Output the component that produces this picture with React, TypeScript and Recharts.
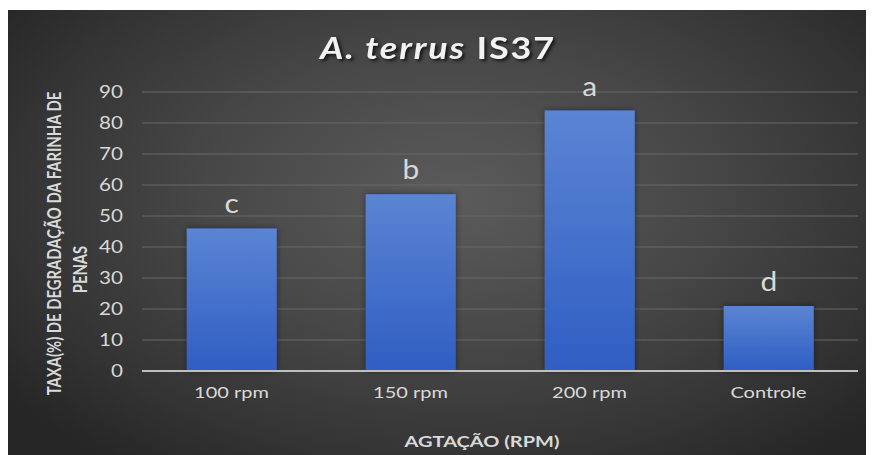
import React from "react";
import { BarChart, Bar, XAxis, YAxis, CartesianGrid, LabelList, Label } from "recharts";

const categories = ["100 rpm", "150 rpm", "200 rpm", "Controle"];
const values = [46, 57, 84, 21];
const letters = ["c", "b", "a", "d"];
const yTicks = [0, 10, 20, 30, 40, 50, 60, 70, 80, 90];

const data = categories.map((name, i) => ({ name, value: values[i], letter: letters[i] }));

const FONT = "Lato, 'Open Sans', sans-serif";
const SX = 1.25;
const TXT = "#d9d9d9";

const XTick = (props: any) => {
  const { x, y, payload } = props;
  return (
    <text transform={`translate(${x},${y}) scale(${SX},1)`} x={0} y={0} dy="0.71em" textAnchor="middle" fill={TXT} fontSize={16} fontFamily={FONT}>
      {payload.value}
    </text>
  );
};

const YTick = (props: any) => {
  const { x, y, payload } = props;
  return (
    <text transform={`translate(${x},${y}) scale(${SX},1)`} x={0} y={0} dy="0.355em" textAnchor="end" fill={TXT} fontSize={16.5} fontFamily={FONT}>
      {payload.value}
    </text>
  );
};

const LetterLabel = (props: any) => {
  const { x, y, width, value } = props;
  const cx = x + width / 2;
  return (
    <text transform={`translate(${cx},${y - 15}) scale(1.15,1)`} x={0} y={0} textAnchor="middle" fill={TXT} fontSize={26} fontFamily={FONT}>
      {value}
    </text>
  );
};

const YLabel = (props: any) => {
  const vb = props.viewBox || { x: 0, y: 0, width: 0, height: 0 };
  const cy = vb.y + vb.height / 2;
  const x1 = 46;
  const y1 = cy + 12;
  const x2 = 72;
  const y2 = cy + 38;
  return (
    <g fill={TXT} fontFamily={FONT} fontWeight={700} fontSize={14.8}>
      <text transform={`translate(${x1},${y1}) scale(1.3,1) rotate(-90)`} x={0} y={0} textAnchor="middle" dominantBaseline="central">
        TAXA(%)  DE DEGRADAÇÃO DA FARINHA DE
      </text>
      <text transform={`translate(${x2},${y2}) scale(1.3,1) rotate(-90)`} x={0} y={0} textAnchor="middle" dominantBaseline="central">
        PENAS
      </text>
    </g>
  );
};

const XLabel = (props: any) => {
  const vb = props.viewBox || { x: 0, y: 0, width: 0, height: 0 };
  const cx = vb.x + vb.width / 2 - 18;
  const cy = vb.y + 70;
  return (
    <text transform={`translate(${cx},${cy}) scale(${SX},1)`} x={0} y={0} textAnchor="middle" dominantBaseline="central" fill={TXT} fontFamily={FONT} fontWeight={700} fontSize={16}>
      AGTAÇÃO (RPM)
    </text>
  );
};

export default function App() {
  return (
    <div
      style={{
        position: "relative",
        width: 860,
        height: 445,
        marginTop: 2,
        background: "radial-gradient(ellipse 65% 75% at 52% 42%, #5b5b5b 0%, #474747 45%, #333333 80%, #262626 100%)",
        overflow: "hidden",
      }}
    >
      <div
        style={{
          position: "absolute",
          top: 19,
          left: 0,
          width: "100%",
          textAlign: "center",
          fontFamily: FONT,
          fontWeight: 700,
          fontSize: 30,
          letterSpacing: 1.5,
          color: "#f2f2f2",
          textShadow: "2px 2px 3px rgba(0,0,0,0.7)",
          transform: "scaleX(1.2)",
          transformOrigin: "430px 0",
        }}
      >
        <span style={{ fontStyle: "italic" }}>A. terrus</span> IS37
      </div>
      <BarChart width={860} height={445} data={data} margin={{ top: 82, right: 10, left: 0, bottom: 0 }} barCategoryGap="25%">
        <defs>
          <linearGradient id="barGrad" x1="0" y1="0" x2="0" y2="1">
            <stop offset="0%" stopColor="#5b84d3" />
            <stop offset="100%" stopColor="#2f5ec3" />
          </linearGradient>
          <filter id="barShadow" x="-20%" y="-20%" width="140%" height="140%">
            <feDropShadow dx="0" dy="0" stdDeviation="3" floodColor="#000" floodOpacity="0.45" />
          </filter>
        </defs>
        <CartesianGrid vertical={false} stroke="#686868" strokeWidth={1} />
        <XAxis
          dataKey="name"
          height={84}
          tickLine={false}
          tickSize={0}
          tickMargin={16}
          axisLine={{ stroke: "#bfbfbf", strokeWidth: 2 }}
          tick={<XTick />}
        >
          <Label content={<XLabel />} />
        </XAxis>
        <YAxis
          width={134}
          domain={[0, 90]}
          ticks={yTicks}
          interval={0}
          axisLine={false}
          tickLine={false}
          tickSize={0}
          tickMargin={19}
          tick={<YTick />}
        >
          <Label content={<YLabel />} />
        </YAxis>
        <Bar dataKey="value" fill="url(#barGrad)" isAnimationActive={false} style={{ filter: "url(#barShadow)" }}>
          <LabelList dataKey="letter" content={<LetterLabel />} />
        </Bar>
      </BarChart>
    </div>
  );
}
